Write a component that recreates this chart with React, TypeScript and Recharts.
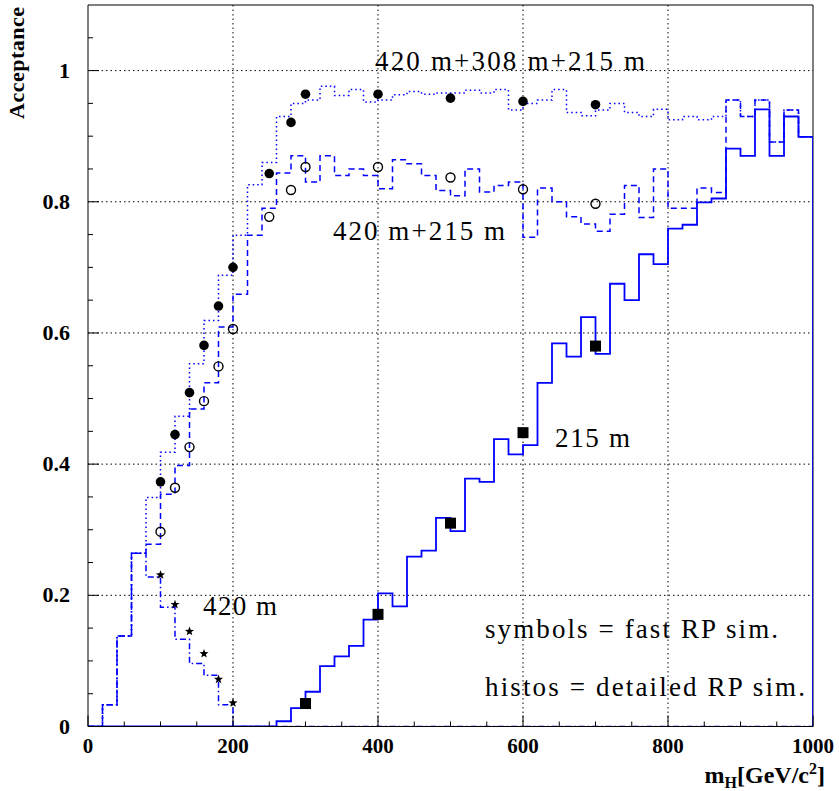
import React from "react";
import {
  ComposedChart,
  Line,
  Scatter,
  XAxis,
  YAxis,
  ReferenceLine,
} from "recharts";

// ---- Data ----
const binStarts = [
  0, 20, 40, 60, 80, 100, 120, 140, 160, 180,
  200, 220, 240, 260, 280, 300, 320, 340, 360, 380,
  400, 420, 440, 460, 480, 500, 520, 540, 560, 580,
  600, 620, 640, 660, 680, 700, 720, 740, 760, 780,
  800, 820, 840, 860, 880, 900, 920, 940, 960, 980,
];
const histEnd = 1000;

// 420 m + 308 m + 215 m (detailed, dotted)
const hist420_308_215 = [
  0, 0.033, 0.138, 0.264, 0.349, 0.418, 0.473, 0.553, 0.619, 0.688,
  0.749, 0.826, 0.86, 0.93, 0.95, 0.955, 0.976, 0.962, 0.971, 0.952,
  0.955, 0.963, 0.968, 0.964, 0.966, 0.966, 0.97, 0.966, 0.971, 0.94,
  0.95, 0.955, 0.971, 0.936, 0.931, 0.94, 0.95, 0.936, 0.93, 0.941,
  0.925, 0.93, 0.925, 0.93, 0.955, 0.93, 0.955, 0.891, 0.94, 0.899,
];
// 420 m + 215 m (detailed, dashed)
const hist420_215 = [
  0, 0.033, 0.138, 0.264, 0.278, 0.354, 0.398, 0.484, 0.524, 0.609,
  0.659, 0.749, 0.79, 0.844, 0.87, 0.83, 0.87, 0.84, 0.85, 0.84,
  0.82, 0.864, 0.858, 0.84, 0.817, 0.809, 0.85, 0.815, 0.825, 0.83,
  0.746, 0.821, 0.8, 0.777, 0.766, 0.755, 0.781, 0.825, 0.776, 0.85,
  0.79, 0.79, 0.821, 0.814, 0.955, 0.93, 0.955, 0.891, 0.94, 0.899,
];
// 420 m (detailed, dash-dot)
const hist420 = [
  0, 0.033, 0.138, 0.264, 0.228, 0.182, 0.133, 0.096, 0.078, 0.033,
  0, 0, 0, 0, 0, 0, 0, 0, 0, 0,
  0, 0, 0, 0, 0, 0, 0, 0, 0, 0,
  0, 0, 0, 0, 0, 0, 0, 0, 0, 0,
  0, 0, 0, 0, 0, 0, 0, 0, 0, 0,
];
// 215 m (detailed, solid)
const hist215 = [
  0, 0, 0, 0, 0, 0, 0, 0, 0, 0,
  0, 0, 0, 0.008, 0.028, 0.053, 0.092, 0.107, 0.123, 0.163,
  0.203, 0.183, 0.259, 0.268, 0.318, 0.298, 0.378, 0.373, 0.438, 0.415,
  0.429, 0.524, 0.584, 0.564, 0.624, 0.568, 0.675, 0.65, 0.72, 0.705,
  0.759, 0.765, 0.799, 0.805, 0.881, 0.87, 0.941, 0.87, 0.93, 0.899,
];

// fast simulation symbols
const fast420_308_215_x = [100, 120, 140, 160, 180, 200, 250, 280, 300, 400, 500, 600, 700];
const fast420_308_215_y = [0.373, 0.445, 0.509, 0.581, 0.641, 0.7, 0.843, 0.921, 0.964, 0.964, 0.958, 0.953, 0.948];
const fast420_215_x = [100, 120, 140, 160, 180, 200, 250, 280, 300, 400, 500, 600, 700];
const fast420_215_y = [0.297, 0.364, 0.426, 0.496, 0.549, 0.606, 0.777, 0.818, 0.853, 0.853, 0.837, 0.819, 0.797];
const fast420_x = [100, 120, 140, 160, 180, 200];
const fast420_y = [0.231, 0.186, 0.145, 0.111, 0.072, 0.036];
const fast215_x = [300, 400, 500, 600, 700];
const fast215_y = [0.035, 0.171, 0.31, 0.448, 0.58];

// axes
const xTicks = [0, 50, 100, 150, 200, 250, 300, 350, 400, 450, 500, 550, 600, 650, 700, 750, 800, 850, 900, 950, 1000];
const xMajor = [0, 200, 400, 600, 800, 1000];
const xLabels = ["0", "200", "400", "600", "800", "1000"];
const yTicks = [0, 0.05, 0.1, 0.15, 0.2, 0.25, 0.3, 0.35, 0.4, 0.45, 0.5, 0.55, 0.6, 0.65, 0.7, 0.75, 0.8, 0.85, 0.9, 0.95, 1, 1.05];
const yMajor = [0, 0.2, 0.4, 0.6, 0.8, 1];
const yLabels = ["0", "0.2", "0.4", "0.6", "0.8", "1"];
const xGrid = [200, 400, 600, 800];
const yGrid = [0.2, 0.4, 0.6, 0.8, 1];

// ---- helpers ----
const toHist = (vals: number[], dropToZero = false) => {
  const pts = binStarts.map((x, i) => ({ x, y: vals[i] }));
  pts.push({ x: histEnd, y: vals[vals.length - 1] });
  if (dropToZero) pts.push({ x: histEnd, y: 0 });
  return pts;
};
const toPts = (xs: number[], ys: number[]) => xs.map((x, i) => ({ x, y: ys[i] }));

const BLUE = "#0000ff";
const SERIF = "'Liberation Serif', 'Times New Roman', serif";

const findIdx = (arr: number[], v: number) => arr.findIndex((m) => Math.abs(m - v) < 1e-6);

const YTick = (props: any) => {
  const { x, y, payload } = props;
  const v = payload.value;
  const mi = findIdx(yMajor, v);
  const ax = x + 18;
  return (
    <g>
      <line x1={ax} y1={y} x2={ax + (mi >= 0 ? 11 : 5)} y2={y} stroke="#000" strokeWidth={1} />
      {mi >= 0 && (
        <text x={x} y={y} dy={7} textAnchor="end" style={{ fontFamily: SERIF }} fontWeight="bold" fontSize={22} fill="#000">
          {yLabels[mi]}
        </text>
      )}
    </g>
  );
};

const XTick = (props: any) => {
  const { x, y, payload } = props;
  const v = payload.value;
  const mi = findIdx(xMajor, v);
  return (
    <g>
      <line x1={x} y1={y} x2={x} y2={y - (mi >= 0 ? 11 : 5)} stroke="#000" strokeWidth={1} />
      {mi >= 0 && (
        <text x={x} y={y} dy={26} textAnchor="middle" style={{ fontFamily: SERIF }} fontWeight="bold" fontSize={21} fill="#000">
          {xLabels[mi]}
        </text>
      )}
    </g>
  );
};

const FilledCircle = (p: any) => <circle cx={p.cx} cy={p.cy} r={4.8} fill="#000" />;
const OpenCircle = (p: any) => (
  <circle cx={p.cx} cy={p.cy} r={4.5} fill="none" stroke="#000" strokeWidth={1.4} />
);
const Square = (p: any) => <rect x={p.cx - 5.5} y={p.cy - 5.5} width={11} height={11} fill="#000" />;
const Star = (p: any) => {
  const R = 4.8;
  const r = 2;
  const pts: string[] = [];
  for (let k = 0; k < 10; k++) {
    const a = -Math.PI / 2 + (k * Math.PI) / 5;
    const rr = k % 2 === 0 ? R : r;
    pts.push(`${p.cx + rr * Math.cos(a)},${p.cy + rr * Math.sin(a)}`);
  }
  return <polygon points={pts.join(" ")} fill="#000" />;
};

export default function App() {
  const W = 839;
  const H = 791;
  return (
    <div style={{ position: "absolute", left: 0, top: 0, width: W, height: H, background: "#fff" }}>
      <ComposedChart width={W} height={H} margin={{ top: 5, right: 26, left: 0, bottom: 0 }}>
        <XAxis
          type="number"
          dataKey="x"
          domain={[0, 1000]}
          ticks={xTicks}
          interval={0}
          tickSize={0}
          tickMargin={0}
          tick={<XTick />}
          height={64.5}
          axisLine={{ stroke: "#000", strokeWidth: 1 }}
          allowDataOverflow
        />
        <YAxis
          type="number"
          domain={[0, 1.1]}
          ticks={yTicks}
          interval={0}
          tickSize={0}
          tickMargin={18}
          tick={<YTick />}
          width={88}
          axisLine={{ stroke: "#000", strokeWidth: 1 }}
          allowDataOverflow
        />
        {xGrid.map((g) => (
          <ReferenceLine key={"gx" + g} x={g} stroke="#000" strokeWidth={1} strokeDasharray="1.5 3" />
        ))}
        {yGrid.map((g) => (
          <ReferenceLine key={"gy" + g} y={g} stroke="#000" strokeWidth={1} strokeDasharray="1.5 3" />
        ))}
        <ReferenceLine x={1000} stroke="#000" strokeWidth={1} />
        <ReferenceLine y={1.1} stroke="#000" strokeWidth={1} />

        <Line
          data={toHist(hist420)}
          dataKey="y"
          type="stepAfter"
          stroke={BLUE}
          strokeWidth={1.5}
          strokeDasharray="6 3 1.5 3"
          dot={false}
          activeDot={false}
          isAnimationActive={false}
        />
        <Line
          data={toHist(hist215, true)}
          dataKey="y"
          type="stepAfter"
          stroke={BLUE}
          strokeWidth={1.8}
          dot={false}
          activeDot={false}
          isAnimationActive={false}
        />
        <Line
          data={toHist(hist420_215)}
          dataKey="y"
          type="stepAfter"
          stroke={BLUE}
          strokeWidth={1.5}
          strokeDasharray="6 4"
          dot={false}
          activeDot={false}
          isAnimationActive={false}
        />
        <Line
          data={toHist(hist420_308_215)}
          dataKey="y"
          type="stepAfter"
          stroke={BLUE}
          strokeWidth={1.5}
          strokeDasharray="1.5 3"
          dot={false}
          activeDot={false}
          isAnimationActive={false}
        />

        <Scatter data={toPts(fast420_308_215_x, fast420_308_215_y)} dataKey="y" shape={FilledCircle} isAnimationActive={false} />
        <Scatter data={toPts(fast420_215_x, fast420_215_y)} dataKey="y" shape={OpenCircle} isAnimationActive={false} />
        <Scatter data={toPts(fast420_x, fast420_y)} dataKey="y" shape={Star} isAnimationActive={false} />
        <Scatter data={toPts(fast215_x, fast215_y)} dataKey="y" shape={Square} isAnimationActive={false} />
      </ComposedChart>

      <svg
        width={W}
        height={H}
        style={{ position: "absolute", left: 0, top: 0, pointerEvents: "none" }}
      >
        <g style={{ fontFamily: SERIF }} fontSize={27} fill="#000">
          <text x={375} y={70} textLength={270} lengthAdjust="spacing">420 m+308 m+215 m</text>
          <text x={333} y={240} textLength={172} lengthAdjust="spacing">420 m+215 m</text>
          <text x={555} y={447} textLength={75} lengthAdjust="spacing">215 m</text>
          <text x={203} y={615} textLength={74} lengthAdjust="spacing">420 m</text>
          <text x={485} y={638} textLength={293} lengthAdjust="spacing">symbols = fast RP sim.</text>
          <text x={485} y={696} textLength={320} lengthAdjust="spacing">histos = detailed RP sim.</text>
        </g>
        <text
          transform="translate(24,7) rotate(-90)"
          textAnchor="end"
          style={{ fontFamily: SERIF }}
          fontWeight="bold"
          fontSize={22}
          textLength={112}
          lengthAdjust="spacing"
          fill="#000"
        >
          Acceptance
        </text>
        <text
          x={825}
          y={783}
          textAnchor="end"
          style={{ fontFamily: SERIF }}
          fontWeight="bold"
          fontSize={24}
          fill="#000"
        >
          m<tspan fontSize={16} dy={5}>H</tspan>
          <tspan dy={-5}>[GeV/c</tspan>
          <tspan fontSize={16} dy={-9}>2</tspan>
          <tspan dy={9}>]</tspan>
        </text>
      </svg>
    </div>
  );
}
